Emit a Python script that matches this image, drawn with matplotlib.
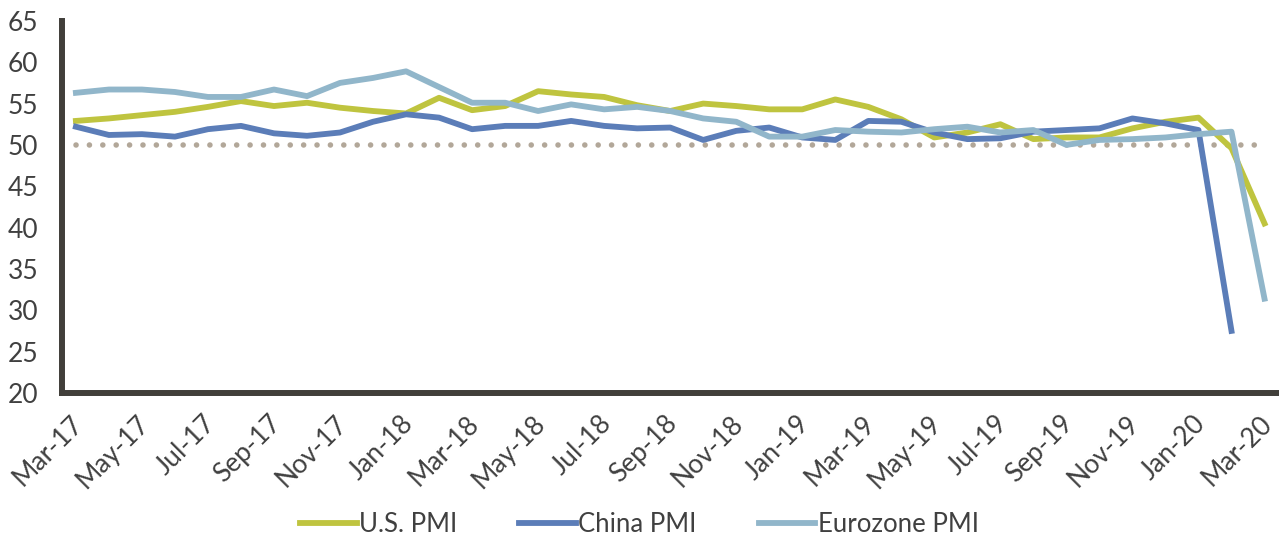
import matplotlib
matplotlib.use("Agg")
import matplotlib.pyplot as plt
from matplotlib.transforms import ScaledTranslation

plt.rcParams['font.family'] = ['Lato', 'DejaVu Sans']

months = ['Mar-17', 'Apr-17', 'May-17', 'Jun-17', 'Jul-17', 'Aug-17', 'Sep-17', 'Oct-17',
          'Nov-17', 'Dec-17', 'Jan-18', 'Feb-18', 'Mar-18', 'Apr-18', 'May-18', 'Jun-18',
          'Jul-18', 'Aug-18', 'Sep-18', 'Oct-18', 'Nov-18', 'Dec-18', 'Jan-19', 'Feb-19',
          'Mar-19', 'Apr-19', 'May-19', 'Jun-19', 'Jul-19', 'Aug-19', 'Sep-19', 'Oct-19',
          'Nov-19', 'Dec-19', 'Jan-20', 'Feb-20', 'Mar-20']

us_pmi = [52.9, 53.2, 53.6, 54.0, 54.6, 55.3, 54.7, 55.1, 54.5, 54.1, 53.8, 55.7,
          54.2, 54.7, 56.5, 56.1, 55.8, 54.8, 54.1, 55.0, 54.7, 54.3, 54.3, 55.5,
          54.6, 53.1, 50.9, 51.5, 52.5, 50.7, 50.9, 50.9, 52.0, 52.8, 53.3, 49.6, 40.5]

china_pmi = [52.2, 51.2, 51.3, 51.0, 51.9, 52.3, 51.4, 51.1, 51.5, 52.8, 53.7, 53.3,
             51.9, 52.3, 52.3, 52.9, 52.3, 52.0, 52.1, 50.6, 51.7, 52.1, 50.9, 50.6,
             52.9, 52.8, 51.5, 50.7, 50.8, 51.6, 51.8, 52.0, 53.2, 52.6, 51.8, 27.5]

eurozone_pmi = [56.3, 56.7, 56.7, 56.4, 55.8, 55.8, 56.7, 55.9, 57.5, 58.1, 58.9, 57.0,
                55.1, 55.1, 54.1, 54.9, 54.3, 54.6, 54.1, 53.2, 52.8, 51.0, 51.0, 51.8,
                51.6, 51.5, 51.9, 52.2, 51.5, 51.8, 50.0, 50.6, 50.7, 50.9, 51.3, 51.6, 31.4]

benchmark = [50] * len(months)

text_color = '#404040'
axis_color = '#413F3A'

fig = plt.figure(figsize=(12.79, 5.36), dpi=100)
ax = fig.add_axes([0.0485, 0.267, 0.951, 0.694])

x = list(range(len(months)))
ax.plot(x, benchmark, color='#B2A799', lw=4.0, linestyle=(0, (0.01, 2.4)),
        dash_capstyle='round', zorder=1)
ax.plot(x, us_pmi, color='#BFC43F', lw=4.2, label='U.S. PMI', zorder=2)
ax.plot(x[:len(china_pmi)], china_pmi, color='#5B7DB8', lw=4.2, label='China PMI', zorder=3)
ax.plot(x, eurozone_pmi, color='#91B6CA', lw=4.2, label='Eurozone PMI', zorder=4)

ax.set_xlim(-0.42, 36.42)
ax.set_ylim(20, 65)
ax.set_yticks(range(20, 66, 5))
ax.set_xticks(x[::2])
ax.set_xticklabels(months[::2], rotation=45, ha='right', rotation_mode='anchor')

for side in ['top', 'right']:
    ax.spines[side].set_visible(False)
for side in ['left', 'bottom']:
    ax.spines[side].set_color(axis_color)
    ax.spines[side].set_linewidth(4.3)

ax.tick_params(axis='both', length=0, colors=text_color)
ax.tick_params(axis='y', pad=17, labelsize=19)
ax.tick_params(axis='x', pad=13, labelsize=19)

# nudge the slanted month labels a little left so the last one stays inside the figure
shift = ScaledTranslation(-4 / 72, 0, fig.dpi_scale_trans)
for lbl in ax.get_xticklabels():
    lbl.set_transform(lbl.get_transform() + shift)

leg = fig.legend(loc='lower center', bbox_to_anchor=(0.5, -0.045), ncol=3, frameon=False,
                 fontsize=18.5, handlelength=2.2, handletextpad=0.1, columnspacing=2.4)
for t in leg.get_texts():
    t.set_color(text_color)

fig.savefig('out.png', dpi=100)
